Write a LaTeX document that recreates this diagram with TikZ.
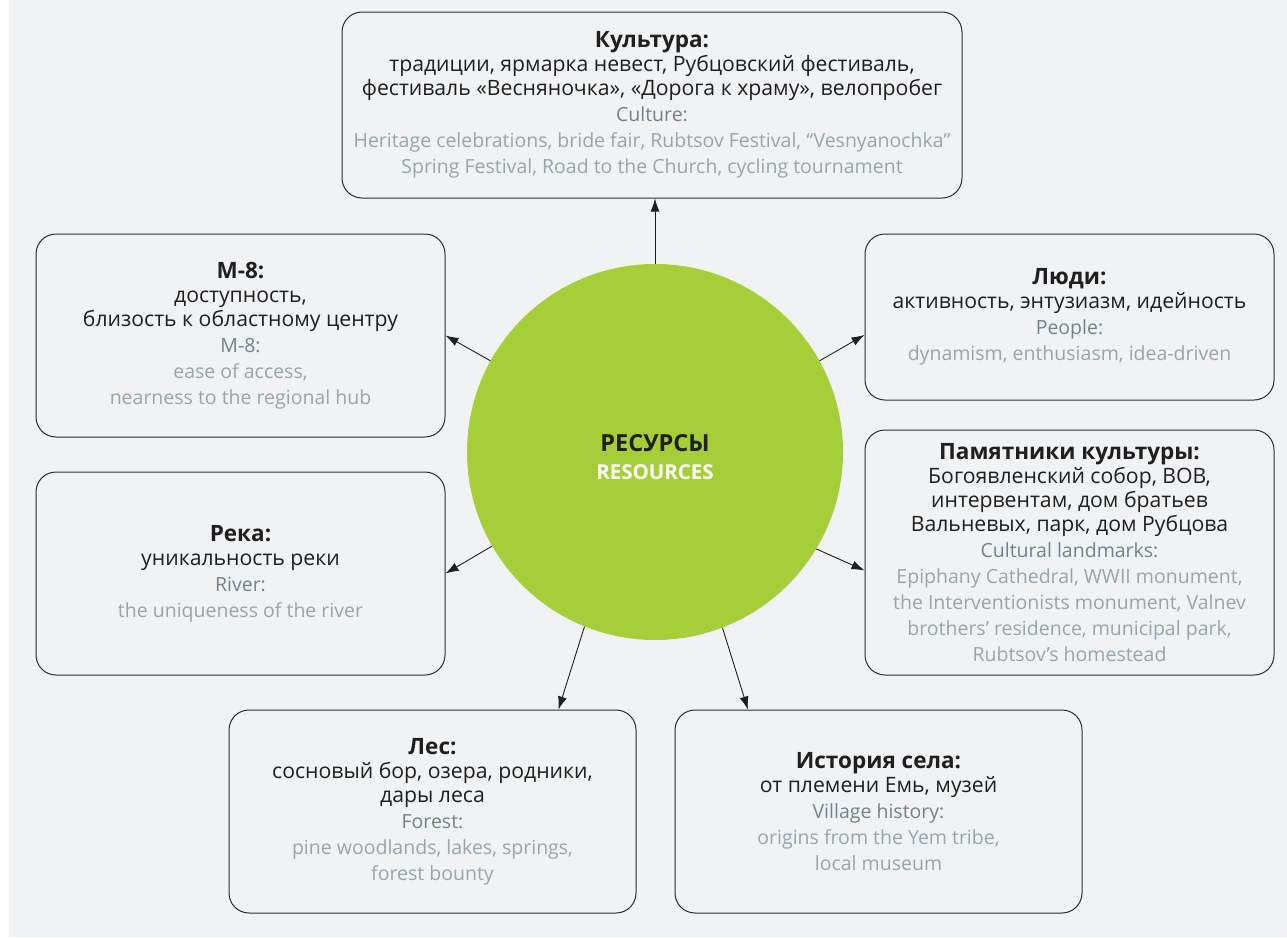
\documentclass[tikz,border=0pt]{standalone}
\usepackage{fontspec}
\setmainfont{Open Sans}
\usetikzlibrary{arrows.meta,positioning}
\definecolor{resgreen}{HTML}{A6CE39}
\definecolor{bgcol}{HTML}{F1F2F4}
\definecolor{engtitle}{HTML}{72818A}
\definecolor{engtext}{HTML}{98A4AB}
\definecolor{boxline}{HTML}{2B2B2B}
\newcommand{\en}{\\[2pt]}
\newcommand{\boxhead}[1]{{\fontsize{22.5}{24}\selectfont\bfseries #1}}
\newcommand{\enhead}[1]{{\fontsize{19.5}{24}\selectfont\color{engtitle}#1}}
\newcommand{\entext}[1]{{\fontsize{19.5}{24}\selectfont\color{engtext}#1}}
\tikzset{
resbox/.style={draw=boxline,line width=1pt,rounded corners=20pt,fill=bgcol,align=center,minimum width=409pt,inner sep=2pt,font=\fontsize{21.2}{24}\selectfont,text=black!88},
hub/.style={circle,fill=resgreen,minimum size=376pt,inner sep=0pt},
arrow/.style={-{Latex[length=13pt,width=9pt]},line width=.9pt,draw=black!88}
}
\begin{document}
\begin{tikzpicture}[x=1pt,y=-1pt]
\fill[white] (0,0) rectangle (1287,937);
\fill[bgcol] (9,0) rectangle (1287,937);
\useasboundingbox (0,0) rectangle (1287,937);

\node[hub] (res) at (655,452) {};
\node[align=center,font=\fontsize{23.5}{28}\selectfont\bfseries,text=black!88] (restext) at (655,457) {РЕСУРСЫ\\{\fontsize{20.5}{28}\selectfont\color{white}RESOURCES}};

\node[resbox,minimum width=620pt,minimum height=186pt] (culture) at (652,105) {\boxhead{Культура:}\\
традиции, ярмарка невест, Рубцовский фестиваль,\\
фестиваль «Весняночка», «Дорога к храму», велопробег\en
\enhead{Culture:}\en
\entext{Heritage celebrations, bride fair, Rubtsov Festival, “Vesnyanochka”}\en
\entext{Spring Festival, Road to the Church, cycling tournament}};
\node[resbox,minimum height=203pt] (road) at (240.5,335.5) {\boxhead{М-8:}\\
доступность,\\
близость к областному центру\en
\enhead{M-8:}\en
\entext{ease of access,}\en
\entext{nearness to the regional hub}};
\node[resbox,minimum height=166pt] (people) at (1069.5,317) {\boxhead{Люди:}\\
активность, энтузиазм, идейность\en
\enhead{People:}\en
\entext{dynamism, enthusiasm, idea-driven}};
\node[resbox,minimum height=245pt] (sights) at (1069.5,552.5) {\boxhead{Памятники культуры:}\\
Богоявленский собор, ВОВ,\\
интервентам, дом братьев\\
Вальневых, парк, дом Рубцова\en
\enhead{Cultural landmarks:}\en
\entext{Epiphany Cathedral, WWII monument,}\en
\entext{the Interventionists monument, Valnev}\en
\entext{brothers’ residence, municipal park,}\en
\entext{Rubtsov’s homestead}};
\node[resbox,minimum height=203pt] (river) at (240.5,573.5) {\boxhead{Река:}\\
уникальность реки\en
\enhead{River:}\en
\entext{the uniqueness of the river}};
\node[resbox,minimum width=407pt,minimum height=203pt] (forest) at (432.5,811.5) {\boxhead{Лес:}\\
сосновый бор, озера, родники,\\
дары леса\en
\enhead{Forest:}\en
\entext{pine woodlands, lakes, springs,}\en
\entext{forest bounty}};
\node[resbox,minimum width=407pt,minimum height=203pt] (history) at (878.5,811.5) {\boxhead{История села:}\\
от племени Емь, музей\en
\enhead{Village history:}\en
\entext{origins from the Yem tribe,}\en
\entext{local museum}};

\draw[arrow] (res.north) -- (res.north |- culture.south);
\draw[arrow] (res.151) -- (road.east);
\draw[arrow] (res.29) -- (people.185.3);
\draw[arrow] (res.210.5) -- (river.east);
\draw[arrow] (res.329.5) -- (sights.185.6);
\draw[arrow] (res.248.8) -- (forest.39.2);
\draw[arrow] (res.291) -- (history.142.1);
\end{tikzpicture}
\end{document}
